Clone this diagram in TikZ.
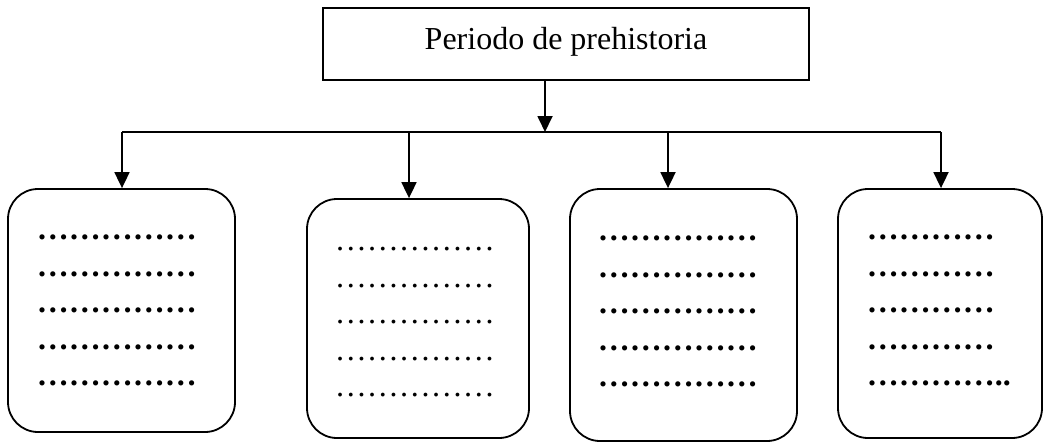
\documentclass[tikz,border=0pt]{standalone}
\usepackage{fontspec}
\setmainfont{Liberation Serif}
\usetikzlibrary{arrows.meta}
\begin{document}
\begin{tikzpicture}[x=1pt,y=-1pt,
  titlebox/.style={draw,line width=1.8pt,minimum width=486pt,minimum height=72pt,inner sep=0pt,
    font=\fontsize{32}{38}\selectfont},
  roundbox/.style={draw,line width=1.8pt,rounded corners=30pt,inner sep=0pt},
  dotrows/.style={anchor=base west,inner sep=0pt,align=left,font=\fontsize{32}{36.5}\selectfont},
  conn/.style={line width=1.8pt},
  arr/.style={conn,-{Triangle[length=16pt,width=15pt]}}]
\useasboundingbox (0,0) rectangle (1046,444);
% title
\node[titlebox] (t) at (566,44) {};
\node[inner sep=0pt,font=\fontsize{32}{38}\selectfont] (tt) at (566,42) {Periodo de prehistoria};
% boxes
\node[roundbox,minimum width=227pt,minimum height=243pt] (b1) at (121.5,310.5) {};
\node[roundbox,minimum width=222pt,minimum height=239pt] (b2) at (418,318.5) {};
\node[roundbox,minimum width=227pt,minimum height=252pt] (b3) at (683.5,315) {};
\node[roundbox,minimum width=204pt,minimum height=249pt] (b4) at (940,313.5) {};
% dots
\node[dotrows] (d1) at (36.7,385.5) {\textbf{……………}\\\textbf{……………}\\\textbf{……………}\\\textbf{……………}\\\textbf{……………}};
\node[dotrows] (d2) at (334.7,396.5) {……………\\……………\\……………\\……………\\……………};
\node[dotrows] (d3) at (597.7,386.5) {\textbf{……………}\\\textbf{……………}\\\textbf{……………}\\\textbf{……………}\\\textbf{……………}};
\node[dotrows] (d4) at (866.7,385.5) {\textbf{…………}\\\textbf{…………}\\\textbf{…………}\\\textbf{…………}\\\textbf{…………..}};
% connectors
\coordinate (j) at (545,132);
\coordinate (l) at (122,132);
\coordinate (c2) at (409,132);
\coordinate (c3) at (668,132);
\coordinate (r) at (941,132);
\draw[arr] (j |- t.south) -- (j);
\draw[conn] (l) -- (r);
\draw[arr] (l) -- (l |- b1.north);
\draw[arr] (c2) -- (c2 |- b2.north);
\draw[arr] (c3) -- (c3 |- b3.north);
\draw[arr] (r) -- (r |- b4.north);
\end{tikzpicture}
\end{document}
